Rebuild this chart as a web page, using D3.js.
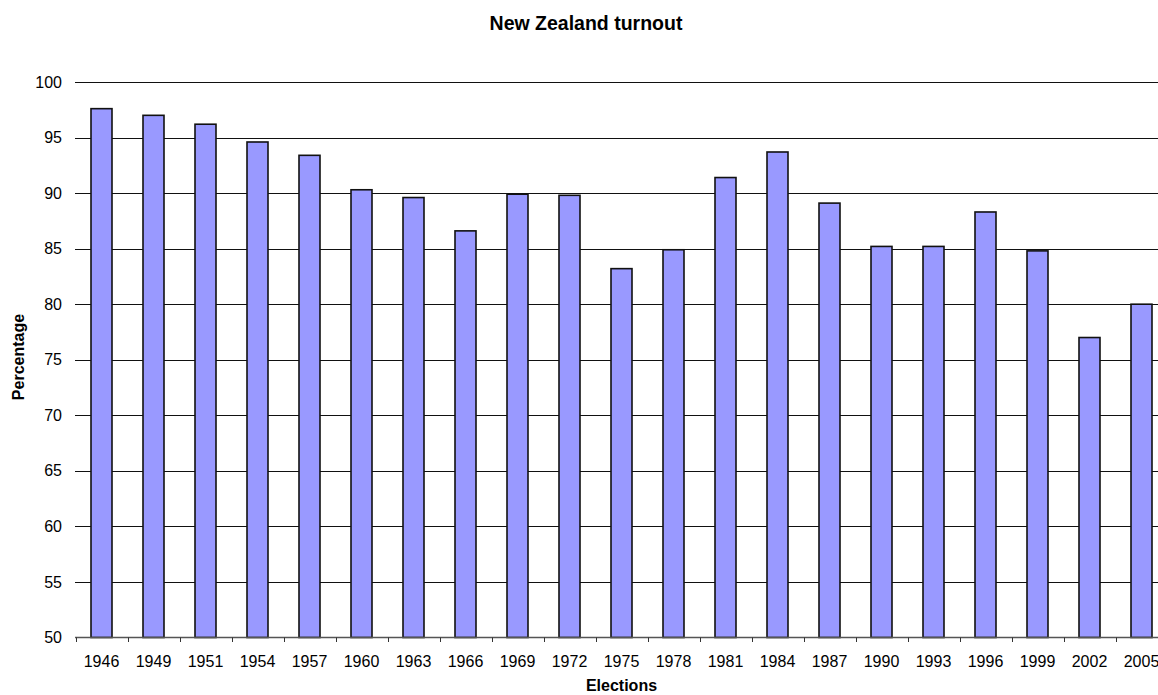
<!DOCTYPE html>
<html>
<head>
<meta charset="utf-8">
<script src="https://cdn.jsdelivr.net/npm/d3@7"></script>
<style>
  body { margin: 0; background: #fff; }
  svg { display: block; font-family: Arial, "Liberation Sans", sans-serif; }
</style>
</head>
<body>
<script>
var width = 1158
var height = 695

// data
var years = ['1946', '1949', '1951', '1954', '1957', '1960', '1963', '1966', '1969', '1972',
    '1975', '1978', '1981', '1984', '1987', '1990', '1993', '1996', '1999', '2002', '2005']
var turnout = [97.6, 97.0, 96.2, 94.6, 93.4, 90.3, 89.6, 86.6, 89.9, 89.8,
    83.2, 84.9, 91.4, 93.7, 89.1, 85.2, 85.2, 88.3, 84.8, 77.0, 80.0]
var yTicks = [50, 55, 60, 65, 70, 75, 80, 85, 90, 95, 100]

var svg = d3.select('body').append('svg')
    .attr('width', width)
    .attr('height', height)

var x = d3.scaleBand()
    .domain(years)
    .range([75.5, 1167.5])
    .paddingInner(31 / 52)
    .paddingOuter(31 / 104)

var y = d3.scaleLinear()
    .domain([50, 100])
    .range([637.5, 82])

// gridlines
svg.append('g')
    .attr('class', 'grid')
    .selectAll('line')
    .data(yTicks.filter(function(d) { return d > 50 }))
    .enter().append('line')
    .attr('x1', 75)
    .attr('x2', width)
    .attr('y1', function(d) { return Math.round(y(d)) + 0.5 })
    .attr('y2', function(d) { return Math.round(y(d)) + 0.5 })
    .style('stroke', '#111')
    .style('stroke-width', 1)

// y labels
svg.append('g')
    .selectAll('text')
    .data(yTicks)
    .enter().append('text')
    .attr('x', 62)
    .attr('y', function(d) { return y(d) })
    .attr('dy', '0.35em')
    .attr('text-anchor', 'end')
    .style('font-size', '16px')
    .style('fill', '#000')
    .text(function(d) { return d })

// bars
svg.append('g')
    .attr('class', 'bars')
    .selectAll('rect')
    .data(years)
    .enter().append('rect')
    .attr('x', function(d) { return x(d) })
    .attr('width', x.bandwidth())
    .attr('y', function(d, i) { return y(turnout[i]) })
    .attr('height', function(d, i) { return y(50) - y(turnout[i]) })
    .style('fill', '#9999ff')
    .style('stroke', '#111')
    .style('stroke-width', 1.6)

// x axis
var gap = (x.step() - x.bandwidth()) / 2
var bounds = years.map(function(d) { return x(d) - gap }).concat([x(years[years.length - 1]) + x.bandwidth() + gap])

var xAxis = svg.append('g').attr('class', 'x-axis')

xAxis.append('line')
    .attr('x1', 75)
    .attr('x2', width)
    .attr('y1', 637.5)
    .attr('y2', 637.5)
    .style('stroke', '#555')
    .style('stroke-width', 1.5)

xAxis.selectAll('line.tick')
    .data(bounds)
    .enter().append('line')
    .attr('class', 'tick')
    .attr('x1', function(d) { return Math.round(d) + 0.5 })
    .attr('x2', function(d) { return Math.round(d) + 0.5 })
    .attr('y1', 637.5)
    .attr('y2', 642)
    .style('stroke', '#333')
    .style('stroke-width', 1)

xAxis.selectAll('text')
    .data(years)
    .enter().append('text')
    .attr('x', function(d) { return x(d) + x.bandwidth() / 2 })
    .attr('y', 667)
    .attr('text-anchor', 'middle')
    .style('font-size', '16px')
    .style('fill', '#000')
    .text(function(d) { return d })

// titles
svg.append('text')
    .attr('x', 586)
    .attr('y', 30)
    .attr('text-anchor', 'middle')
    .style('font-size', '19.5px')
    .style('font-weight', 'bold')
    .text('New Zealand turnout')

svg.append('text')
    .attr('x', 621.5)
    .attr('y', 691)
    .attr('text-anchor', 'middle')
    .style('font-size', '16px')
    .style('font-weight', 'bold')
    .text('Elections')

svg.append('text')
    .attr('transform', 'translate(24,357) rotate(-90)')
    .attr('text-anchor', 'middle')
    .style('font-size', '16px')
    .style('font-weight', 'bold')
    .text('Percentage')
</script>
</body>
</html>
